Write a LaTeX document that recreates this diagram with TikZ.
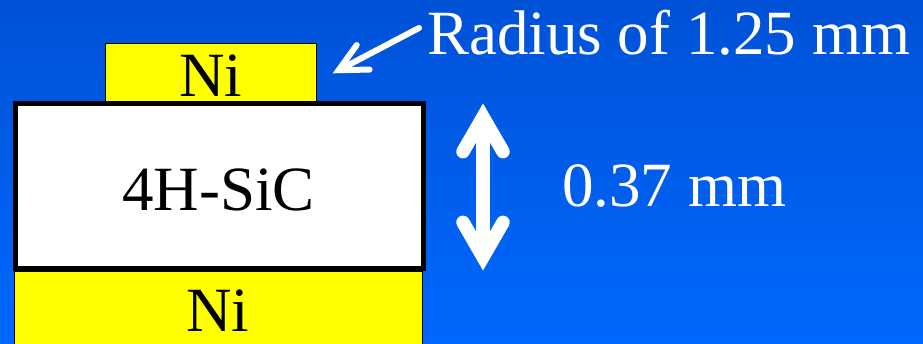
\documentclass[tikz,border=0pt]{standalone}
\usepackage{fontspec}
\setmainfont{Liberation Serif}
\usetikzlibrary{calc}
\definecolor{bgtop}{RGB}{0,82,214}
\definecolor{bgbot}{RGB}{0,104,255}
\definecolor{niyellow}{RGB}{255,255,0}
\tikzset{
  bigfont/.style={font=\fontsize{63}{70}\selectfont},
  lbl/.style={bigfont, inner sep=0pt, anchor=base, text=black},
  wlbl/.style={bigfont, inner sep=0pt, anchor=base west, text=white},
  nibox/.style={draw=black, fill=niyellow, line width=1.5pt, inner sep=0pt, rectangle},
  sicbox/.style={draw=black, fill=white, line width=5pt, inner sep=0pt, rectangle},
  warrow/.style={draw=white, line cap=round, line join=miter},
}
\begin{document}
\begin{tikzpicture}[x=1pt,y=-1pt]
  \useasboundingbox (0,0) rectangle (923,344);
  \shade[top color=bgtop, bottom color=bgbot] (0,0) rectangle (923,344);
  \clip (0,0) rectangle (923,344);
  % layers
  \node[nibox, minimum width=211pt, minimum height=62pt] (nitop) at (211,74.5) {};
  \node[nibox, minimum width=408pt, minimum height=100pt] (nibot) at (218.6,321) {};
  \node[sicbox, minimum width=408.5pt, minimum height=165pt] (sic) at (219.25,186.5) {};
  % texts
  \node[lbl] (nitoptext) at (211,97) {Ni};
  \node[lbl] (sictext) at (218.5,211) {4H-SiC};
  \node[lbl] (nibottext) at (218,332) {Ni};
  \node[wlbl] (radius) at (427,55) {Radius of 1.25 mm};
  \node[wlbl] (thick) at (562,207) {0.37 mm};
  % radius arrow
  \coordinate (rtail) at (419,28);
  \coordinate (rtip) at (338.6,70.2);
  \draw[warrow, line width=6pt] (rtail) -- (rtip);
  \draw[warrow, line width=6pt]
    ($(rtip)!31pt!26.5:(rtail)$) -- (rtip) -- ($(rtip)!31pt!-26.5:(rtail)$);
  % thickness arrow
  \coordinate (dtop) at (483,117);
  \coordinate (dbot) at (483,257);
  \draw[draw=white, line width=13.5pt] (dtop) -- (dbot);
  \draw[warrow, line width=13.5pt]
    ($(dtop)!40pt!30:(dbot)$) -- (dtop) -- ($(dtop)!40pt!-30:(dbot)$);
  \draw[warrow, line width=13.5pt]
    ($(dbot)!40pt!30:(dtop)$) -- (dbot) -- ($(dbot)!40pt!-30:(dtop)$);
\end{tikzpicture}
\end{document}
